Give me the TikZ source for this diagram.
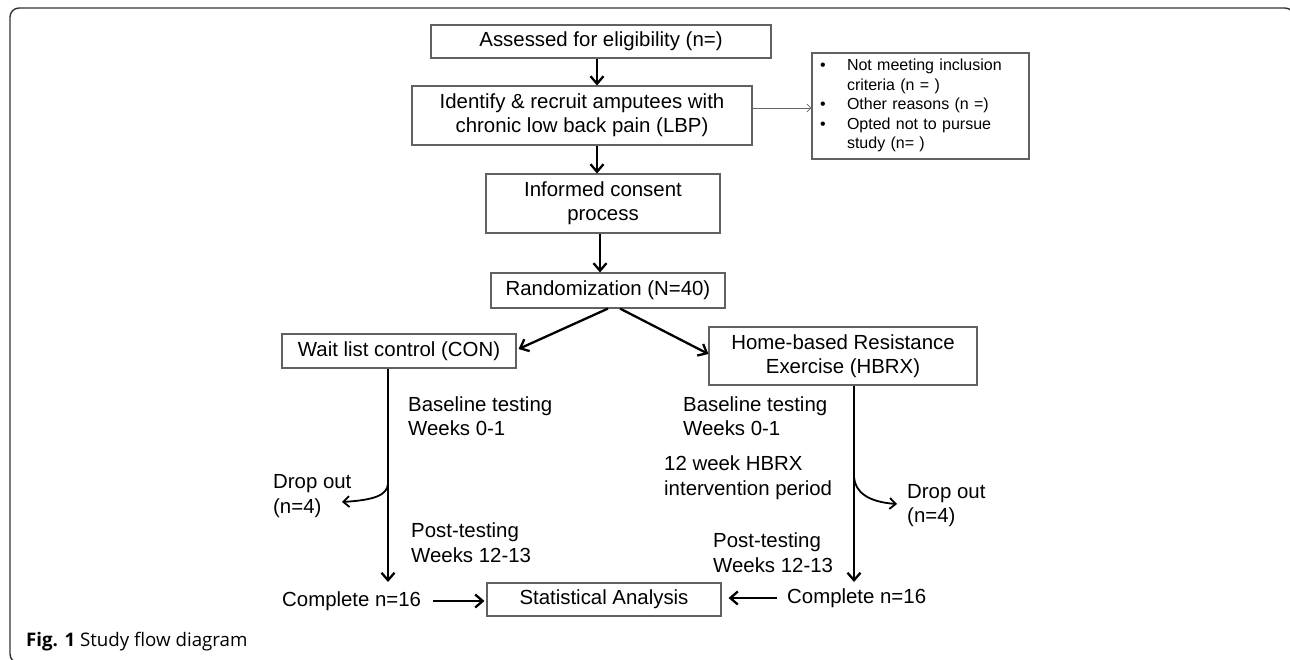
\documentclass[tikz,border=0pt]{standalone}
\usepackage{fontspec}
\setmainfont{Liberation Sans}
\newfontfamily\capfont{Open Sans}
\usetikzlibrary{arrows.meta}
\begin{document}
\begin{tikzpicture}[x=1pt,y=-1pt,
  box/.style={draw=black!62, line width=1.1pt, inner sep=0pt, align=center, font=\fontsize{20.4}{24}\selectfont},
  lbl/.style={inner sep=0pt, align=left, anchor=west, font=\fontsize{20.4}{24.5}\selectfont},
  arr/.style={line width=2.3pt, -{Straight Barb[length=7.5pt,width=13pt]}},
  darr/.style={line width=1.8pt, -{Straight Barb[length=6pt,width=11pt]}},
  thinarr/.style={draw=black!60, line width=0.8pt, -{Straight Barb[length=4pt,width=8pt]}}]
\clip (0,0) rectangle (1290,660);
\draw[black!80, line width=1.4pt, rounded corners=9pt] (10,8) rectangle (1294,663);
% boxes
\node[box, minimum width=340pt, minimum height=33pt] (assess) at (601,41.5) {Assessed for eligibility (n=)};
\node[box, minimum width=340pt, minimum height=59pt] (ident) at (582,115.5) {Identify \& recruit amputees with\\chronic low back pain (LBP)};
\node[draw=black!62, line width=1.1pt, inner xsep=8pt, inner ysep=0pt, text width=201pt, align=left, minimum height=106pt, font=\fontsize{16}{19.5}\selectfont] (excl) at (920.5,106) {\noindent\begin{tabular}{@{}l@{\hspace{21.4pt}}l@{}}
\textbullet & Not meeting inclusion\\
 & criteria (n = )\\
\textbullet & Other reasons (n =)\\
\textbullet & Opted not to pursue\\
 & study (n= )
\end{tabular}};
\node[box, minimum width=234pt, minimum height=59pt] (inform) at (603,203.5) {Informed consent\\process};
\node[box, minimum width=234pt, minimum height=35pt] (rand) at (608,290.5) {Randomization (N=40)};
\node[box, minimum width=234pt, minimum height=34pt] (con) at (399,351) {Wait list control (CON)};
\node[box, minimum width=268pt, minimum height=58pt] (hbrx) at (843,356) {Home-based Resistance\\Exercise (HBRX)};
\node[box, minimum width=234pt, minimum height=33pt] (stat) at (604,599.5) {Statistical Analysis};
% labels
\node[lbl] (blL) at (408,416) {Baseline testing\\Weeks 0-1};
\node[lbl] (ptL) at (411,542.5) {Post-testing\\Weeks 12-13};
\node[lbl] (doL) at (273,496) {Drop out\\(n=4)};
\node[lbl] (compL) at (282,601) {Complete n=16};
\node[lbl] (blR) at (683,416) {Baseline testing\\Weeks 0-1};
\node[lbl] (ivR) at (664,477.5) {12 week HBRX\\intervention period};
\node[lbl] (ptR) at (713,552.5) {Post-testing\\Weeks 12-13};
\node[lbl] (doR) at (907,505.5) {Drop out\\(n=4)};
\node[lbl] (compR) at (787,598) {Complete n=16};
\node[anchor=west, inner sep=0pt, font=\capfont\fontsize{18.7}{22}\selectfont] (cap) at (26,642) {\textbf{Fig. 1} Study flow diagram};
% coordinates
\coordinate (endL) at (388,582);
\coordinate (endR) at (854,582);
\coordinate (brL) at (388,484);
\coordinate (tipL) at (342,502);
\coordinate (brR) at (854,477);
\coordinate (tipR) at (897,504);
% connectors
\draw[arr] ([xshift=-4pt]assess.south) -- ([xshift=-4pt]assess.south |- ident.north);
\draw[arr] ([xshift=15pt]ident.south) -- ([xshift=15pt]ident.south |- inform.north);
\draw[arr] ([xshift=-3pt]inform.south) -- ([xshift=-3pt]inform.south |- rand.north);
\draw[thinarr] ([yshift=7.5pt]ident.east) -- ([yshift=7.5pt]ident.east -| excl.west);
\draw[arr] (rand.south) -- ([xshift=2pt,yshift=2pt]con.east);
\draw[arr] ([xshift=12pt]rand.south) -- ([yshift=2pt]hbrx.west);
\draw[arr] ([xshift=-11pt]con.south) -- (endL);
\draw[arr] ([xshift=11pt]hbrx.south) -- (endR);
\draw[darr] (brL) .. controls (387,495) and (375,500) .. (tipL);
\draw[darr] (brR) .. controls (855,492) and (868,502) .. (tipR);
\draw[arr] ([xshift=12pt]compL.east) -- ([xshift=-2pt]stat.west |- compL.east);
\draw[arr] ([xshift=-10pt]compR.west) -- ([xshift=7pt]stat.east |- compR.west);
\end{tikzpicture}
\end{document}
